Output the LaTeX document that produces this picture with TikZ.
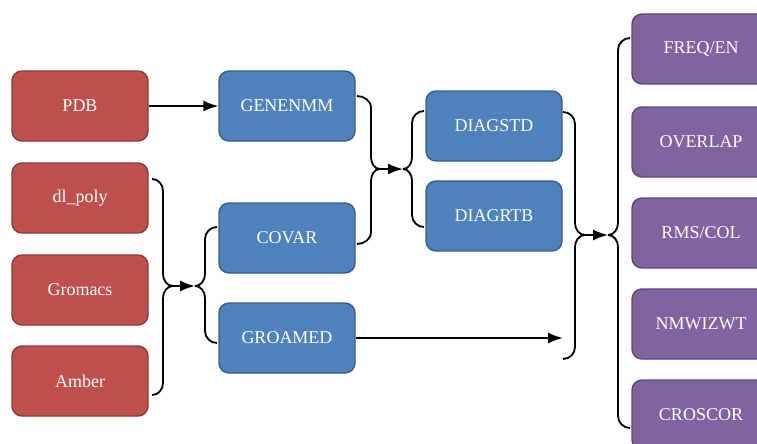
\documentclass[tikz,border=0pt]{standalone}
\usepackage{fontspec}
\setmainfont{Liberation Serif}
\usepackage{xcolor}
\usetikzlibrary{positioning,calc,arrows.meta}

\definecolor{inred}{HTML}{C0504D}
\definecolor{inredline}{HTML}{8C3836}
\definecolor{modblue}{HTML}{4F81BD}
\definecolor{modblueline}{HTML}{385D8A}
\definecolor{outpurple}{HTML}{8064A2}
\definecolor{outpurpleline}{HTML}{5C4776}

\begin{document}
\begin{tikzpicture}[x=1pt, y=-1pt,
    box/.style={rectangle, rounded corners=10pt, line width=1.4pt, minimum width=136pt, minimum height=70pt, text=white, font=\fontsize{18}{21}\selectfont},
    inbox/.style={box, fill=inred, draw=inredline},
    modbox/.style={box, fill=modblue, draw=modblueline},
    outbox/.style={box, fill=outpurple, draw=outpurpleline, minimum width=138pt},
    brace/.style={line width=1.8pt},
    flow/.style={line width=1.8pt, -{Latex[length=15pt,width=11pt]}}]
    \useasboundingbox (0,0) rectangle (757,444);
    \clip (0,0) rectangle (757,444);

    % Input formats
    \node[inbox] (pdb) at (80,106) {PDB};
    \node[inbox] (dlpoly) at (80,198) {dl\_poly};
    \node[inbox] (gromacs) at (80,290) {Gromacs};
    \node[inbox] (amber) at (80,381) {Amber};

    % Programs
    \node[modbox] (genenmm) at (287,106) {GENENMM};
    \node[modbox] (covar) at (287,238) {COVAR};
    \node[modbox] (groamed) at (287,338) {GROAMED};
    \node[modbox] (diagstd) at (494,126) {DIAGSTD};
    \node[modbox] (diagrtb) at (494,216) {DIAGRTB};

    % Analysis tools
    \node[outbox] (freqen) at (701,49) {FREQ/EN};
    \node[outbox] (overlap) at (701,142) {OVERLAP};
    \node[outbox] (rmscol) at (701,233) {RMS/COL};
    \node[outbox] (nmwizwt) at (701,324) {NMWIZWT};
    \node[outbox] (croscor) at (701,415) {CROSCOR};

    % Brace ends and merge points
    \coordinate (ba) at (152,179);
    \coordinate (bb) at (152,395);
    \coordinate (m1) at (173,286);
    \coordinate (t1) at (195,286);
    \coordinate (bc) at (217,227);
    \coordinate (bd) at (217,343);
    \coordinate (be) at (357,96);
    \coordinate (bf) at (357,244);
    \coordinate (m2) at (380,169);
    \coordinate (t2) at (403,169);
    \coordinate (bg) at (424,111);
    \coordinate (bh) at (424,227);
    \coordinate (bi) at (563,112);
    \coordinate (bj) at (563,359);
    \coordinate (gin) at (563,338);
    \coordinate (m3) at (585,235);
    \coordinate (t3) at (608,235);
    \coordinate (bk) at (630,38);
    \coordinate (bl) at (630,428);

    \draw[flow] (pdb.east) -- (genenmm.west);
    \draw[flow] (groamed.east) -- (gin);

    % MD trajectories -> COVAR / GROAMED
    \draw[brace] (ba) to[out=0,in=90] ++(11,12) -- ++(0,83) to[out=-90,in=180] (m1);
    \draw[brace] (bb) to[out=0,in=-90] ++(11,-12) -- ++(0,-85) to[out=90,in=180] (m1);
    \draw[flow] (m1) -- (t1);
    \draw[brace] (t1) to[out=0,in=-90] ++(10,-12) -- ++(0,-35) to[out=90,in=180] (bc);
    \draw[brace] (t1) to[out=0,in=90] ++(10,12) -- ++(0,33) to[out=-90,in=180] (bd);

    % GENENMM / COVAR -> diagonalisation
    \draw[brace] (be) to[out=0,in=90] ++(14,12) -- ++(0,49) to[out=-90,in=180] (m2);
    \draw[brace] (bf) to[out=0,in=-90] ++(14,-12) -- ++(0,-51) to[out=90,in=180] (m2);
    \draw[flow] (m2) -- (t2);
    \draw[brace] (t2) to[out=0,in=-90] ++(9,-12) -- ++(0,-34) to[out=90,in=180] (bg);
    \draw[brace] (t2) to[out=0,in=90] ++(9,12) -- ++(0,34) to[out=-90,in=180] (bh);

    % Eigenvectors -> analysis
    \draw[brace] (bi) to[out=0,in=90] ++(12,12) -- ++(0,99) to[out=-90,in=180] (m3);
    \draw[brace] (bj) to[out=0,in=-90] ++(12,-12) -- ++(0,-100) to[out=90,in=180] (m3);
    \draw[flow] (m3) -- (t3);
    \draw[brace] (t3) to[out=0,in=-90] ++(10,-12) -- ++(0,-173) to[out=90,in=180] (bk);
    \draw[brace] (t3) to[out=0,in=90] ++(10,12) -- ++(0,169) to[out=-90,in=180] (bl);
\end{tikzpicture}
\end{document}
